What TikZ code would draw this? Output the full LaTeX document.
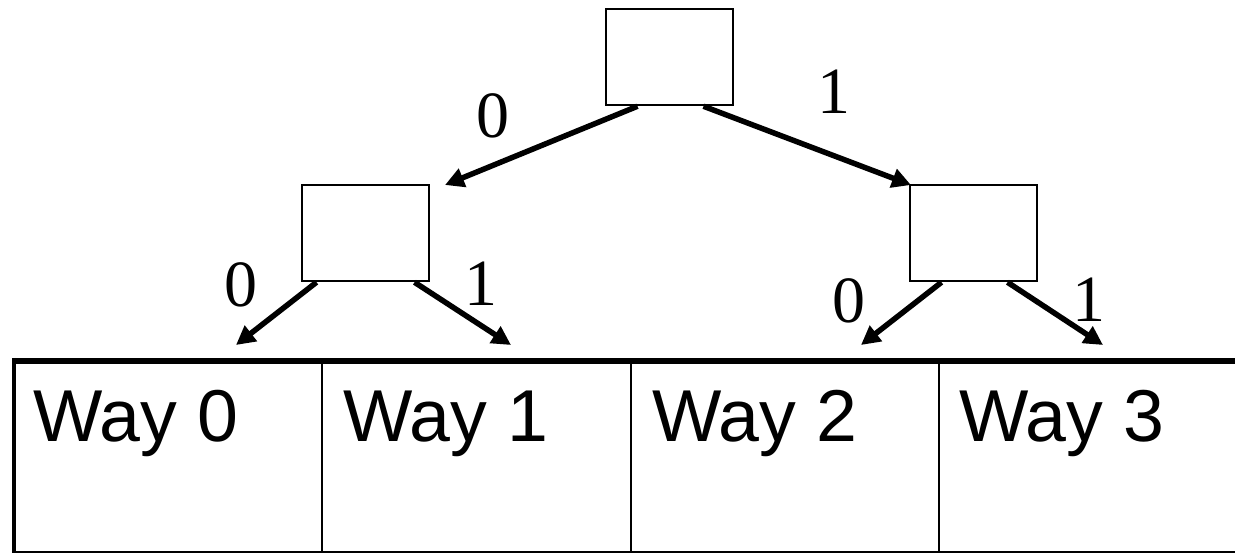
\documentclass[tikz,border=0pt]{standalone}
\usepackage{fontspec}
\setmainfont{Liberation Serif}
\newfontfamily\arialfont{Liberation Sans}
\usetikzlibrary{arrows.meta}
\tikzset{
  treebox/.style={draw, line width=2.5pt, minimum width=127pt, minimum height=96pt, inner sep=0pt},
  edge/.style={line width=5.5pt, -{Triangle[length=19pt,width=19pt]}, shorten >=0pt},
  bit/.style={font=\fontsize{66}{72}\selectfont, inner sep=0pt},
  waytext/.style={font=\arialfont\fontsize{73.5}{80}\selectfont, anchor=base west, inner sep=0pt},
}
\begin{document}
\begin{tikzpicture}[x=1pt,y=-1pt]
\useasboundingbox (0,0) rectangle (1235,553);
% tree boxes
\node[treebox] (root) at (669.5,57) {};
\node[treebox] (lbox) at (365.5,233) {};
\node[treebox] (rbox) at (973.5,233) {};
% arrow targets
\coordinate (t0) at (445,185);
\coordinate (t1) at (911,185);
\coordinate (w0) at (236,345);
\coordinate (w1) at (511,345);
\coordinate (w2) at (861,345);
\coordinate (w3) at (1103,345);
% arrows
\draw[edge] ([xshift=-32pt]root.south) -- (t0);
\draw[edge] ([xshift=34pt]root.south) -- (t1);
\draw[edge] ([xshift=-49pt]lbox.south) -- (w0);
\draw[edge] ([xshift=49pt]lbox.south) -- (w1);
\draw[edge] ([xshift=-32pt]rbox.south) -- (w2);
\draw[edge] ([xshift=34pt]rbox.south) -- (w3);
% bit labels
\node[bit] (b0) at (493,116) {0};
\node[bit] (b1) at (834,92) {1};
\node[bit] (b2) at (241,285) {0};
\node[bit] (b3) at (481,284) {1};
\node[bit] (b4) at (849,301) {0};
\node[bit] (b5) at (1089,300) {1};
% table
\draw[line width=2pt] (12,552) -- (1235,552);
\draw[line width=2.5pt] (322,361) -- (322,553);
\draw[line width=2.5pt] (631,361) -- (631,553);
\draw[line width=2.5pt] (939,361) -- (939,553);
\draw[line width=4.5pt] (14,358) -- (14,553);
\draw[line width=6pt] (12,361) -- (1235,361);
% way labels
\node[waytext] (way0) at (33,442) {Way 0};
\node[waytext] (way1) at (343,442) {Way 1};
\node[waytext] (way2) at (652,442) {Way 2};
\node[waytext] (way3) at (959,442) {Way 3};
\end{tikzpicture}
\end{document}
